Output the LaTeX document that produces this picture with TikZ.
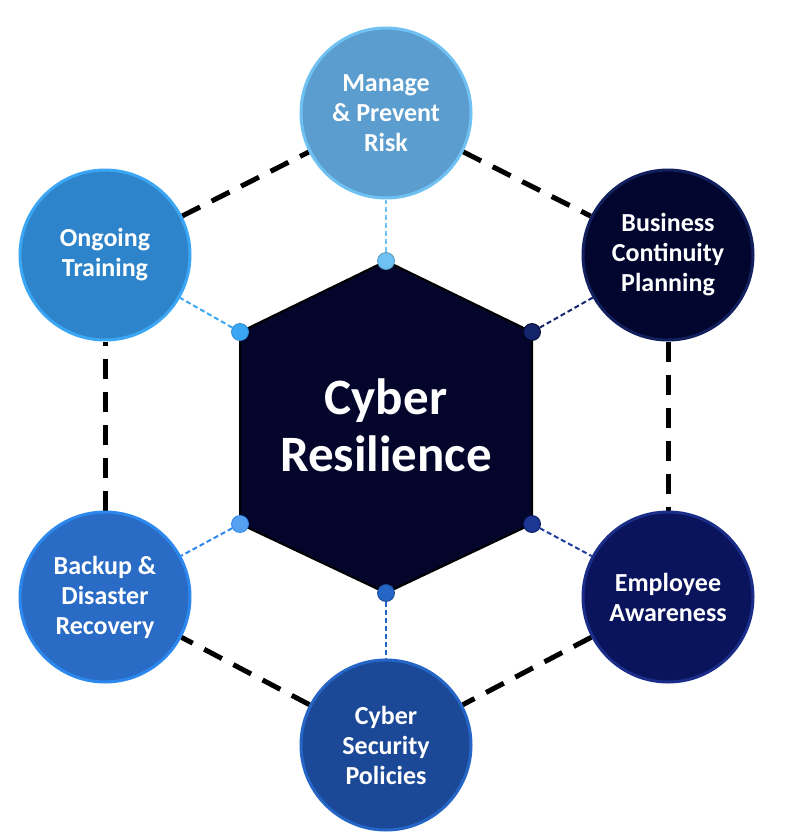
\documentclass[tikz,border=0pt]{standalone}
\usepackage{fontspec}
\setmainfont{Carlito}
\usetikzlibrary{backgrounds}
\newcommand\outltxt[1]{#1}
\definecolor{fA}{HTML}{5B9DCE}\definecolor{bA}{HTML}{6EC1F2}
\definecolor{fB}{HTML}{2E84CA}\definecolor{bB}{HTML}{3BA6F3}
\definecolor{fC}{HTML}{2A6BC6}\definecolor{bC}{HTML}{2D88EE}
\definecolor{fD}{HTML}{1B4997}\definecolor{bD}{HTML}{2565C6}
\definecolor{fE}{HTML}{0A145C}\definecolor{bE}{HTML}{1A2D88}
\definecolor{fF}{HTML}{02062E}\definecolor{bF}{HTML}{12205E}
\definecolor{hexfill}{HTML}{03062A}
\tikzset{
  topic/.style={circle, minimum size=170pt, inner sep=0pt, line width=3pt, align=center,
    text=white, font=\bfseries\fontsize{26}{30}\selectfont},
  ring/.style={line width=5pt, dash pattern=on 20pt off 13pt, black},
  spoke/.style={line width=2pt, dash pattern=on 5pt off 3pt},
  vdot/.style={circle, minimum size=17pt, inner sep=0pt, draw, line width=0.8pt},
}
\begin{document}
\begin{tikzpicture}[x=1pt,y=-1pt]
\useasboundingbox (0,0) rectangle (786,835);
% hexagon vertices
\coordinate (vT) at (386,261);
\coordinate (vUR) at (532,332);
\coordinate (vLR) at (532,524);
\coordinate (vB) at (386,593);
\coordinate (vLL) at (240,524);
\coordinate (vUL) at (240,332);
\fill[hexfill, draw=black, line width=2pt, line join=miter] (vT) -- (vUR) -- (vLR) -- (vB) -- (vLL) -- (vUL) -- cycle;
\node[text=white, align=center, font=\bfseries\fontsize{51}{57}\selectfont] (cr) at (386,425) {Cyber\\Resilience};
% topic circles
\node[topic, fill=fA, draw=bA] (top) at (386,113) {\outltxt{Manage\\\& Prevent\\Risk}};
\node[topic, fill=fF, draw=bF] (ur) at (668,255) {\outltxt{Business\\Continuity\\Planning}};
\node[topic, fill=fE, draw=bE] (lr) at (668,597) {\outltxt{Employee\\Awareness}};
\node[topic, fill=fD, draw=bD] (bot) at (386,745) {\outltxt{Cyber\\Security\\Policies}};
\node[topic, fill=fC, draw=bC] (ll) at (105,597) {\outltxt{Backup \&\\Disaster\\Recovery}};
\node[topic, fill=fB, draw=bB] (ul) at (105,255) {\outltxt{Ongoing\\Training}};
% vertex dots
\node[vdot, fill=bA, draw=bA!80!black] (dT) at (vT) {};
\node[vdot, fill=bF!70!bE, draw=fF] (dUR) at (vUR) {};
\node[vdot, fill=bE!80!bD, draw=fE] (dLR) at (vLR) {};
\node[vdot, fill=bD, draw=fD] (dB) at (vB) {};
\node[vdot, fill=bC!80!white, draw=bC] (dLL) at (vLL) {};
\node[vdot, fill=bB, draw=bB!85!black] (dUL) at (vUL) {};
\begin{scope}[on background layer]
  \draw[ring] (top) -- (ur);
  \draw[ring] (ur) -- (lr);
  \draw[ring] (lr) -- (bot);
  \draw[ring] (bot) -- (ll);
  \draw[ring] (ll) -- (ul);
  \draw[ring] (ul) -- (top);
  \draw[spoke, bA] (dT) -- (top);
  \draw[spoke, bF!60!bE] (dUR) -- (ur);
  \draw[spoke, bE!70!bD] (dLR) -- (lr);
  \draw[spoke, bD] (dB) -- (bot);
  \draw[spoke, bC] (dLL) -- (ll);
  \draw[spoke, bB] (dUL) -- (ul);
\end{scope}
\end{tikzpicture}
\end{document}
